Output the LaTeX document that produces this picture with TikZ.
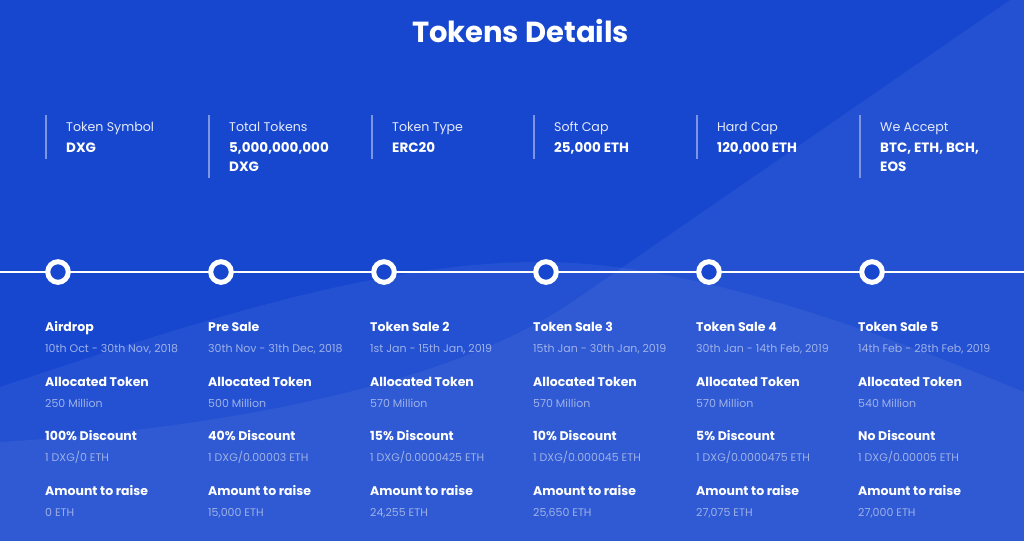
\documentclass[tikz,border=0pt]{standalone}
\usepackage{fontspec}
\setmainfont{Poppins}
\definecolor{basebg}{HTML}{1747CF}
\definecolor{subc}{HTML}{9FB1E8}
\definecolor{lblc}{HTML}{E4EAFA}
\definecolor{sepc}{HTML}{7C96E4}
\begin{document}
\begin{tikzpicture}[x=1pt,y=-1pt,
  ttl/.style={anchor=base, inner sep=0, font=\fontsize{29}{33}\selectfont\bfseries, text=white},
  hd/.style={anchor=base west, inner sep=0, font=\fontsize{12.5}{15}\selectfont\bfseries, text=white},
  sub/.style={anchor=base west, inner sep=0, font=\fontsize{11}{13}\selectfont, text=subc},
  lbl/.style={anchor=base west, inner sep=0, font=\fontsize{12.6}{15}\selectfont, text=lblc},
  val/.style={anchor=base west, inner sep=0, font=\fontsize{13.5}{16}\selectfont\bfseries, text=white},
  sepline/.style={draw=sepc, line width=2pt},
  dot/.style={circle, draw=white, line width=5pt, fill=basebg, minimum size=20.6pt, inner sep=0},
  tline/.style={draw=white, line width=2pt},
  layer/.style={fill=white, fill opacity=0.055}
]
\useasboundingbox (0,0) rectangle (1024,541);
\fill[basebg] (0,0) rectangle (1024,541);
% background layers
\path[layer] (1010,0) -- (1024,0) -- (1024,541) -- (0,541) -- (0,442)
  .. controls (200,430) and (445,390) .. (575,300) -- cycle;
\path[layer] (0,541) -- (0,387) .. controls (200,320) and (380,262) .. (540,262)
  .. controls (680,262) and (850,320) .. (1024,392) -- (1024,541) -- cycle;

% title
\node[ttl] (title) at (520.5,42.3) {Tokens Details};

% top info row
\foreach \x/\n in {46/a,209/b,372/c,534/d,697/e,860/f} {
  \coordinate (s\n) at (\x,115);
}
\draw[sepline] (sa) -- ++(0,44);
\draw[sepline] (sb) -- ++(0,63);
\draw[sepline] (sc) -- ++(0,44);
\draw[sepline] (sd) -- ++(0,44);
\draw[sepline] (se) -- ++(0,44);
\draw[sepline] (sf) -- ++(0,63);

\node[lbl] (la) at (66,131) {Token Symbol};
\node[val] (va) at (66,152.3) {DXG};
\node[lbl] (lb) at (229,131) {Total Tokens};
\node[val] (vb) at (229,152.3) {5,000,000,000};
\node[val] (vb2) at (229,171.7) {DXG};
\node[lbl] (lc) at (392,131) {Token Type};
\node[val] (vc) at (392,152.3) {ERC20};
\node[lbl] (ld) at (554,131) {Soft Cap};
\node[val] (vd) at (554,152.3) {25,000 ETH};
\node[lbl] (le) at (717,131) {Hard Cap};
\node[val] (ve) at (717,152.3) {120,000 ETH};
\node[lbl] (lf) at (880,131) {We Accept};
\node[val] (vf) at (880,152.3) {BTC, ETH, BCH,};
\node[val] (vf2) at (880,171.7) {EOS};

% timeline
\coordinate (tl) at (0,272);
\coordinate (tr) at (1024,272);
\draw[tline] (tl) -- (tr);
\foreach \x/\n in {58/1,221/2,384/3,546/4,709/5,872/6} {
  \node[dot] (c\n) at (\x,272) {};
}

% columns
\foreach \x/\n/\ta/\tb/\tc/\td/\te/\tf in {
  45/1/Airdrop/{10th Oct - 30th Nov, 2018}/250 Million/100\% Discount/1 DXG\slash 0 ETH/0 ETH,
  208/2/Pre Sale/{30th Nov - 31th Dec, 2018}/500 Million/40\% Discount/1 DXG\slash 0.00003 ETH/{15,000 ETH},
  370/3/Token Sale 2/{1st Jan - 15th Jan, 2019}/570 Million/15\% Discount/1 DXG\slash 0.0000425 ETH/{24,255 ETH},
  533/4/Token Sale 3/{15th Jan - 30th Jan, 2019}/570 Million/10\% Discount/1 DXG\slash 0.000045 ETH/{25,650 ETH},
  696/5/Token Sale 4/{30th Jan - 14th Feb, 2019}/570 Million/5\% Discount/1 DXG\slash 0.0000475 ETH/{27,075 ETH},
  858/6/Token Sale 5/{14th Feb - 28th Feb, 2019}/540 Million/No Discount/1 DXG\slash 0.00005 ETH/{27,000 ETH}} {
  \node[hd] (h\n a) at (\x,331.5) {\ta};
  \node[sub] (s\n a) at (\x,352.3) {\tb};
  \node[hd] (h\n b) at (\x,386.2) {Allocated Token};
  \node[sub] (s\n b) at (\x,407) {\tc};
  \node[hd] (h\n c) at (\x,440.9) {\td};
  \node[sub] (s\n c) at (\x,461.7) {\te};
  \node[hd] (h\n d) at (\x,495.6) {Amount to raise};
  \node[sub] (s\n d) at (\x,516.4) {\tf};
}
\end{tikzpicture}
\end{document}
